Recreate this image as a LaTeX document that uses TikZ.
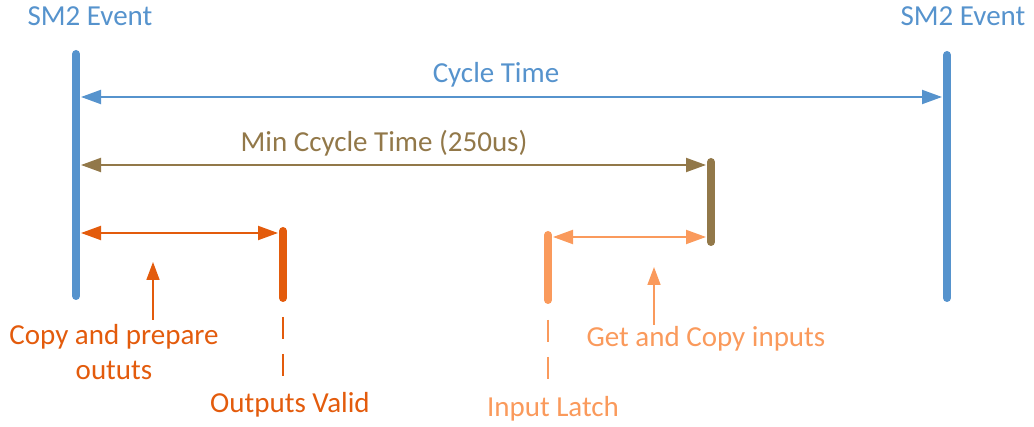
\documentclass[tikz,border=0pt]{standalone}
\usepackage{fontspec}
\setmainfont{Carlito}
\usepackage{tikz}
\usetikzlibrary{arrows.meta}

\definecolor{smblue}{HTML}{5693CD}
\definecolor{minbrown}{HTML}{927849}
\definecolor{outorange}{HTML}{E35B0C}
\definecolor{inorange}{HTML}{FA9A5C}

\begin{document}
\begin{tikzpicture}[
  x=1pt,
  y=-1pt,
  anchor=base
]

  \tikzstyle{bar}=[line width=8pt,line cap=round]
  \tikzstyle{span}=[draw,line width=2pt,{Triangle[length=20pt,width=14pt]}-{Triangle[length=20pt,width=14pt]}]
  \tikzstyle{pointup}=[draw,line width=1.6pt,-{Triangle[length=18pt,width=13pt]}]
  \tikzstyle{latch}=[draw,line width=1.2pt,dash pattern=on 22pt off 15pt]
  \tikzstyle{lab}=[font=\fontsize{29}{35}\selectfont,inner sep=0pt,align=center]

  \useasboundingbox (0,0) rectangle (1034,427);

  % bars
  \coordinate (smtop1) at (76,54);
  \coordinate (smbot1) at (76,296);
  \coordinate (smtop2) at (947,55);
  \coordinate (smbot2) at (947,298);
  \coordinate (mintop) at (711,162);
  \coordinate (minbot) at (711,242);
  \coordinate (outtop) at (283,231);
  \coordinate (outbot) at (283,298);
  \coordinate (intop) at (548,235);
  \coordinate (inbot) at (548,300);

  \draw[bar,smblue] (smtop1) -- (smbot1);
  \draw[bar,smblue] (smtop2) -- (smbot2);
  \draw[bar,minbrown] (mintop) -- (minbot);
  \draw[bar,outorange] (outtop) -- (outbot);
  \draw[bar,inorange] (intop) -- (inbot);

  % labels
  \node[lab,smblue] (sm1) at (90,26) {SM2 Event};
  \node[lab,smblue] (sm2) at (963,26) {SM2 Event};
  \node[lab,smblue] (cyc) at (496,83) {Cycle Time};
  \node[lab,minbrown] (mincyc) at (384,152) {Min Ccycle Time (250us)};
  \node[lab,outorange] (copyout) at (114,380) {Copy and prepare\\oututs};
  \node[lab,outorange] (valid) at (290,413) {Outputs Valid};
  \node[lab,inorange] (getin) at (706,347) {Get and Copy inputs};
  \node[lab,inorange] (inlatch) at (553,417) {Input Latch};

  % pointers
  \coordinate (cyc1) at (81,97);
  \coordinate (cyc2) at (942,97);
  \coordinate (min1) at (81,165);
  \coordinate (min2) at (706,165);
  \coordinate (out1) at (81,233);
  \coordinate (out2) at (278,233);
  \coordinate (in1) at (553,237);
  \coordinate (in2) at (706,237);
  \coordinate (outup) at (153,262);
  \coordinate (outfoot) at (153,320);
  \coordinate (inup) at (654,267);
  \coordinate (infoot) at (654,325);
  \coordinate (validtop) at (283,317);
  \coordinate (validbot) at (283,378);
  \coordinate (latchtop) at (548,320);
  \coordinate (latchbot) at (548,380);

  \path[span,smblue] (cyc1) -- (cyc2);
  \path[span,minbrown] (min1) -- (min2);
  \path[span,outorange] (out1) -- (out2);
  \path[span,inorange] (in1) -- (in2);
  \path[pointup,outorange] (outfoot) -- (outup);
  \path[pointup,inorange] (infoot) -- (inup);

  \path[latch,outorange] (validtop) -- (validbot);
  \path[latch,inorange] (latchtop) -- (latchbot);

\end{tikzpicture}
\end{document}
